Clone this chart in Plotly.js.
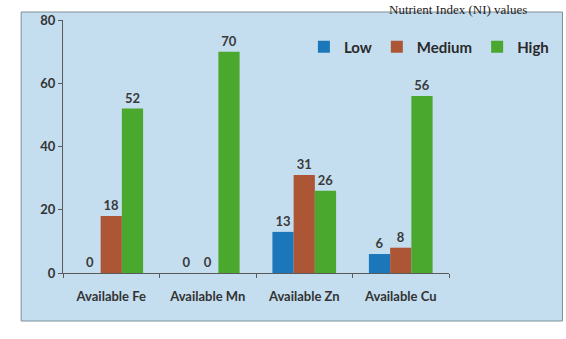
<!DOCTYPE html>
<html>
<head>
<meta charset="utf-8">
<script src="https://cdn.plot.ly/plotly-3.0.1.min.js"></script>
<style>html,body{margin:0;padding:0;background:#fff;}#chart{width:566px;height:339px;}</style>
</head>
<body>
<div id="chart"></div>
<script>
var categories = ["Available Fe", "Available Mn", "Available Zn", "Available Cu"];
var lowValues = [0, 0, 13, 6];
var mediumValues = [18, 0, 31, 8];
var highValues = [52, 70, 26, 56];
var seriesNames = ["Low", "Medium", "High"];
var yTicks = [0, 20, 40, 60, 80];
var pageText = "Nutrient Index (NI) values";

var colors = ["#1b77b9", "#ad5636", "#4aa82f"];
var allValues = [lowValues, mediumValues, highValues];
var fam = "Lato, 'Open Sans', sans-serif";
var lblFont = {family: fam, size: 13, color: "#3a3a3a", weight: "bold"};

var traces = allValues.map(function (vals, i) {
  return {
    type: "bar",
    name: seriesNames[i],
    x: categories,
    y: vals,
    marker: {color: colors[i]},
    text: vals.map(String),
    textposition: "outside",
    textfont: lblFont,
    cliponaxis: false,
    hoverinfo: "skip"
  };
});

var L = 63, R = 478, T = 20, B = 273, W = 566, H = 339;
function px(x) { return (x - L) / (R - L); }
function py(y) { return (B - y) / (B - T); }

var layout = {
  width: W, height: H,
  margin: {l: L, r: W - R, t: T, b: H - B, pad: 0},
  paper_bgcolor: "#ffffff",
  plot_bgcolor: "#e6e6ed",
  barmode: "group",
  bargap: 0.34,
  bargroupgap: 0,
  showlegend: true,
  legend: {
    orientation: "h",
    x: px(322), y: py(47), xanchor: "left", yanchor: "middle",
    bgcolor: "rgba(0,0,0,0)",
    font: {family: fam, size: 15, color: "#2a2a2a", weight: "bold"},
    itemwidth: 30,
    traceorder: "normal"
  },
  xaxis: {
    type: "category",
    showgrid: false,
    showline: true, linecolor: "#5a5a5a", linewidth: 1,
    ticks: "outside", tickson: "boundaries", ticklen: 4, tickcolor: "#5a5a5a",
    tickfont: {family: fam, size: 13, color: "#333", weight: "bold"},
    ticklabelstandoff: 11,
    fixedrange: true
  },
  yaxis: {
    range: [0, 80],
    tickvals: yTicks,
    showgrid: false, zeroline: false,
    showline: true, linecolor: "#5a5a5a", linewidth: 1,
    ticks: "outside", ticklen: 4, tickcolor: "#5a5a5a",
    tickfont: {family: fam, size: 13, color: "#333", weight: "bold"},
    fixedrange: true
  },
  shapes: [{
    type: "rect", xref: "paper", yref: "paper", layer: "below",
    x0: px(18), x1: px(600), y0: py(321), y1: py(12),
    fillcolor: "#c4ddef", line: {color: "#7f8f99", width: 1}
  }],
  annotations: [{
    xref: "paper", yref: "paper",
    x: px(564), y: py(0), xanchor: "right", yanchor: "top",
    text: pageText, showarrow: false,
    font: {family: "'Liberation Serif', 'DejaVu Serif', serif", size: 13, color: "#222"}
  }]
};

Plotly.newPlot("chart", traces, layout, {displayModeBar: false, staticPlot: true});
</script>
</body>
</html>
